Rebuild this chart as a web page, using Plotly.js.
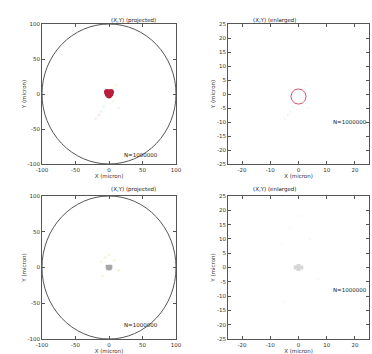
<!DOCTYPE html>
<html><head><meta charset="utf-8">
<script src="https://cdn.plot.ly/plotly-3.0.1.min.js"></script>
<style>html,body{margin:0;padding:0;background:#fff}#c{width:372px;height:354px}</style>
</head><body><div id="c"></div>
<script>
// ---- data ----
const panelTitles = ["(X,Y) (projected)", "(X,Y) (enlarged)", "(X,Y) (projected)", "(X,Y) (enlarged)"];
const countLabels = ["N=1000000", "N=1000000", "N=1000000", "N=1000000"];
const xTitle = "X (micron)";
const yTitle = "Y (micron)";
const boundaryRadius = [100];
const wideTicks = [-100, -50, 0, 50, 100];
const zoomXTicks = [-20, -10, 0, 10, 20];
const zoomYTicks = [-25, -20, -15, -10, -5, 0, 5, 10, 15, 20, 25];
// top-left dense red cluster
const blobX = [-3, 0, 3, -2, 2, 0, -1, 1];
const blobY = [3, 2, 3, 0, 0, -2, 1, 1];
// top-right red ring (zoomed view of cluster)
const ringX = [2.7, 2.3, 1.3, 0, -1.3, -2.3, -2.7, -2.3, -1.3, 0, 1.3, 2.3, 2.7];
const ringY = [-0.9, 0.5, 1.5, 1.8, 1.5, 0.5, -0.9, -2.3, -3.3, -3.6, -3.3, -2.3, -0.9];
// faint scattered points
const faintX = [-8, -12, -15, 10, 6, -20, 14];
const faintY = [-18, -25, -30, 12, -10, -35, -20];
const faintC = ["#e3f9fa", "#e6f8fa", "#fbe8f3", "#f9f9e4", "#f5f9df", "#fcebf5", "#ecf9f7"];
// bottom row: gray cluster
const grayX = [-2, 0, 2, -1, 1];
const grayY = [1, 0, 1, -1, -1];
const grayZX = [-1, 0, 1, 0];
const grayZY = [0, 0.5, 0, -0.5];
const yellowX = [-12, -6, 0, 8, 14, -10];
const yellowY = [8, 14, 18, 10, -4, -12];

const tf = {family: "DejaVu Sans", size: 5.5, color: "#333"};
function ax(domain, ticks, range, anchor, titleText) {
  return {domain: domain, range: range, tickvals: ticks, ticktext: ticks.map(String),
    showline: true, mirror: "ticks", linecolor: "#555", linewidth: 1, ticks: "inside", ticklen: 3,
    tickcolor: "#555", showgrid: false, zeroline: false, tickfont: tf, anchor: anchor,
    title: {text: titleText, font: {family: "DejaVu Sans", size: 5.5, color: "#333"}, standoff: 0}};
}
const xd1 = [42/372, 176/372], xd2 = [228/372, 369/372];
const yd1 = [1-164/354, 1-24/354], yd2 = [1-339/354, 1-196/354];

const traces = [
  {x: faintX, y: faintY, xaxis: "x", yaxis: "y", mode: "markers", marker: {color: faintC, size: 3}},
  {x: blobX, y: blobY, xaxis: "x", yaxis: "y", mode: "markers", marker: {color: "#b81e3c", size: 6, line: {width: 0}}},
  {x: ringX, y: ringY, xaxis: "x2", yaxis: "y2", mode: "lines", line: {color: "#d0506e", width: 1}},
  {x: faintX.map(v => v / 4), y: faintY.map(v => v / 4), xaxis: "x2", yaxis: "y2", mode: "markers", marker: {color: faintC, size: 2}},
  {x: yellowX, y: yellowY, xaxis: "x3", yaxis: "y3", mode: "markers", marker: {color: "#f6f6dc", size: 3}},
  {x: grayX, y: grayY, xaxis: "x3", yaxis: "y3", mode: "markers", marker: {color: "#a8a8a8", size: 4, symbol: "square"}},
  {x: yellowX.map(v => v / 2), y: yellowY, xaxis: "x4", yaxis: "y4", mode: "markers", marker: {color: "#f8f8e6", size: 2}},
  {x: grayZX, y: grayZY, xaxis: "x4", yaxis: "y4", mode: "markers", marker: {color: "#d6d6d6", size: 4, symbol: "square"}}
];

const r = boundaryRadius[0];
const shapes = [
  {type: "circle", xref: "x", yref: "y", x0: -r, x1: r, y0: -r, y1: r, line: {color: "#555", width: 1}},
  {type: "circle", xref: "x3", yref: "y3", x0: -r, x1: r, y0: -r, y1: r, line: {color: "#555", width: 1}}
];

const af = {family: "DejaVu Sans", size: 5.5, color: "#222"};
const annotations = [
  {text: panelTitles[0], x: (xd1[0]+xd1[1])/2, y: 1-15/354, xref: "paper", yref: "paper", showarrow: false, font: af},
  {text: panelTitles[1], x: (xd2[0]+xd2[1])/2, y: 1-15/354, xref: "paper", yref: "paper", showarrow: false, font: af},
  {text: panelTitles[2], x: (xd1[0]+xd1[1])/2, y: 1-189/354, xref: "paper", yref: "paper", showarrow: false, font: af},
  {text: panelTitles[3], x: (xd2[0]+xd2[1])/2, y: 1-189/354, xref: "paper", yref: "paper", showarrow: false, font: af},
  {text: countLabels[0], x: 160/372, y: 1-155/354, xref: "paper", yref: "paper", showarrow: false, font: af, xanchor: "right"},
  {text: countLabels[1], x: 369/372, y: 1-122/354, xref: "paper", yref: "paper", showarrow: false, font: af, xanchor: "right"},
  {text: countLabels[2], x: 160/372, y: 1-330/354, xref: "paper", yref: "paper", showarrow: false, font: af, xanchor: "right"},
  {text: countLabels[3], x: 369/372, y: 1-295/354, xref: "paper", yref: "paper", showarrow: false, font: af, xanchor: "right"}
];

const layout = {
  width: 372, height: 354, margin: {l: 0, r: 0, t: 0, b: 0},
  paper_bgcolor: "#fff", plot_bgcolor: "#fff", showlegend: false,
  xaxis: ax(xd1, wideTicks, [-100, 100], "y", xTitle),
  yaxis: ax(yd1, wideTicks, [-100, 100], "x", yTitle),
  xaxis2: ax(xd2, zoomXTicks, [-25, 25], "y2", xTitle),
  yaxis2: ax(yd1, zoomYTicks, [-25, 25], "x2", yTitle),
  xaxis3: ax(xd1, wideTicks, [-100, 100], "y3", xTitle),
  yaxis3: ax(yd2, wideTicks, [-100, 100], "x3", yTitle),
  xaxis4: ax(xd2, zoomXTicks, [-25, 25], "y4", xTitle),
  yaxis4: ax(yd2, zoomYTicks, [-25, 25], "x4", yTitle),
  shapes: shapes, annotations: annotations
};
Plotly.newPlot("c", traces, layout, {staticPlot: true, displayModeBar: false});
</script></body></html>
